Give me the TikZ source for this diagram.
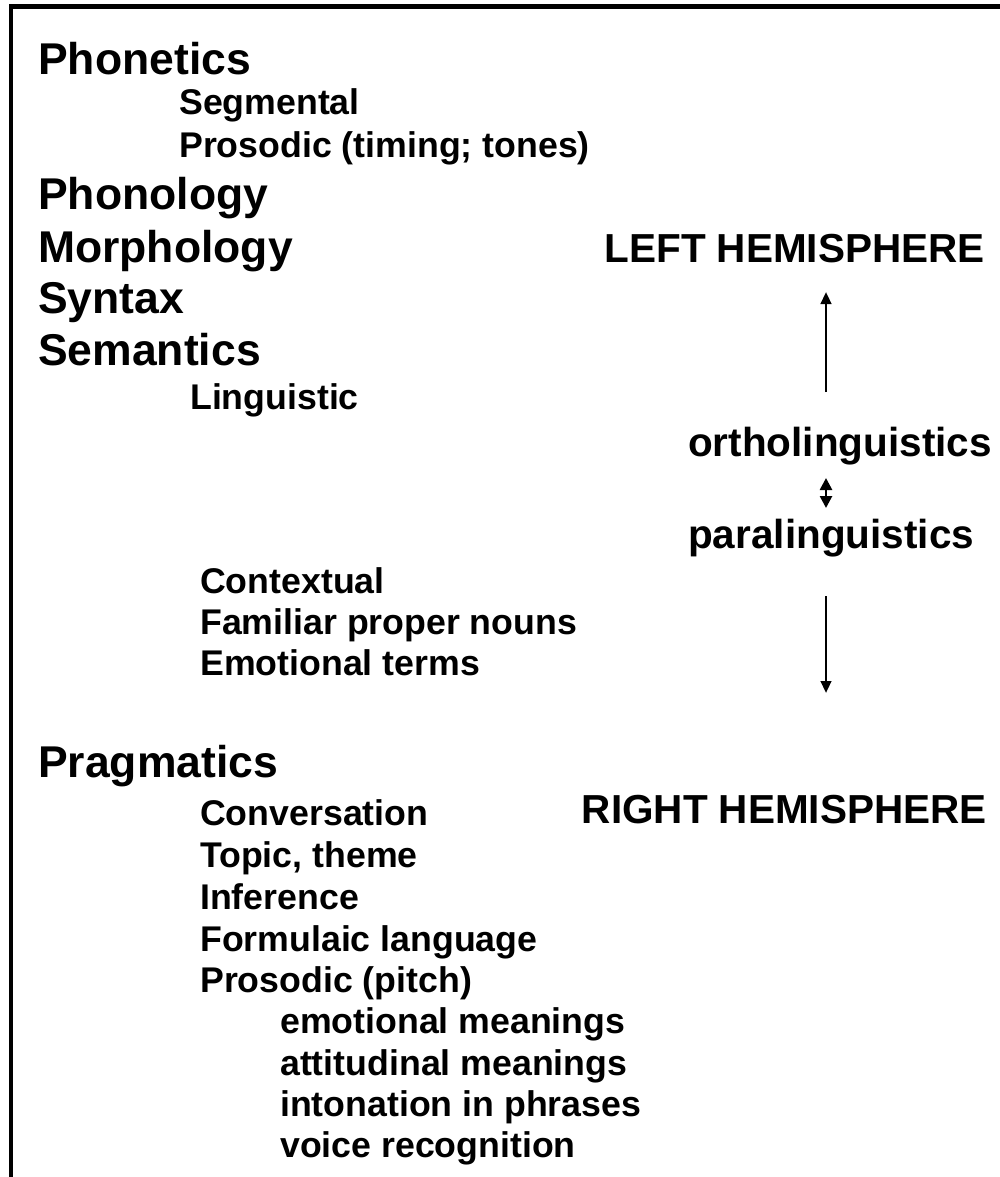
\documentclass[tikz,border=0pt]{standalone}
\usepackage{fontspec}
\setmainfont{Liberation Sans}
\usetikzlibrary{arrows.meta}
\tikzset{
  head/.style={font=\bfseries\fontsize{44.5}{48}\selectfont, anchor=base west, inner sep=0pt},
  sub/.style={font=\bfseries\fontsize{35.7}{40}\selectfont, anchor=base west, inner sep=0pt},
  side/.style={font=\bfseries\fontsize{40.5}{44}\selectfont, inner sep=0pt},
  arr/.style={line width=2.6pt, -{Triangle[length=12pt,width=10.5pt]}},
  darr/.style={line width=2.6pt, {Triangle[length=12pt,width=12pt]}-{Triangle[length=12pt,width=12pt]}},
  frame/.style={line width=4.5pt, line join=miter}
}
\begin{document}
\begin{tikzpicture}[x=1pt,y=-1pt]
\useasboundingbox (0,0) rectangle (999,1177);
\fill[white] (0,0) rectangle (999,1177);
\draw[frame] (11,1182) -- (11,6.5) -- (1004,6.5);

\node[head] (phonetics) at (38,75) {Phonetics};
\node[sub] (segmental) at (179,115) {Segmental};
\node[sub] (prosodic1) at (179,158) {Prosodic (timing; tones)};
\node[head] (phonology) at (38,209) {Phonology};
\node[head] (morphology) at (38,262) {Morphology};
\node[head] (syntax) at (38,313) {Syntax};
\node[head] (semantics) at (38,365) {Semantics};
\node[sub] (linguistic) at (190,409) {Linguistic};
\node[sub] (contextual) at (200,593) {Contextual};
\node[sub] (familiar) at (200,634) {Familiar proper nouns};
\node[sub] (emoterms) at (200,675) {Emotional terms};
\node[head] (pragmatics) at (38,777) {Pragmatics};
\node[sub] (conversation) at (200,825) {Conversation};
\node[sub] (topic) at (200,867) {Topic, theme};
\node[sub] (inference) at (200,909) {Inference};
\node[sub] (formulaic) at (200,951) {Formulaic language};
\node[sub] (prosodic2) at (200,992) {Prosodic (pitch)};
\node[sub] (emomean) at (280,1033) {emotional meanings};
\node[sub] (attmean) at (280,1075) {attitudinal meanings};
\node[sub] (intonation) at (280,1116) {intonation in phrases};
\node[sub] (voice) at (280,1157) {voice recognition};

\node[side, anchor=base east] (lefthem) at (985,262) {LEFT HEMISPHERE};
\node[side, anchor=base west] (ortho) at (688,456) {ortholinguistics};
\node[side, anchor=base west] (para) at (688,548) {paralinguistics};
\node[side, anchor=base east] (righthem) at (987,823) {RIGHT HEMISPHERE};

\coordinate (upA) at (826,392);
\coordinate (upB) at (826,292);
\coordinate (dA) at (826,478);
\coordinate (dB) at (826,508);
\coordinate (downA) at (826,596);
\coordinate (downB) at (826,693);
\draw[arr] (upA) -- (upB);
\draw[darr] (dB) -- (dA);
\draw[arr] (downA) -- (downB);
\end{tikzpicture}
\end{document}
